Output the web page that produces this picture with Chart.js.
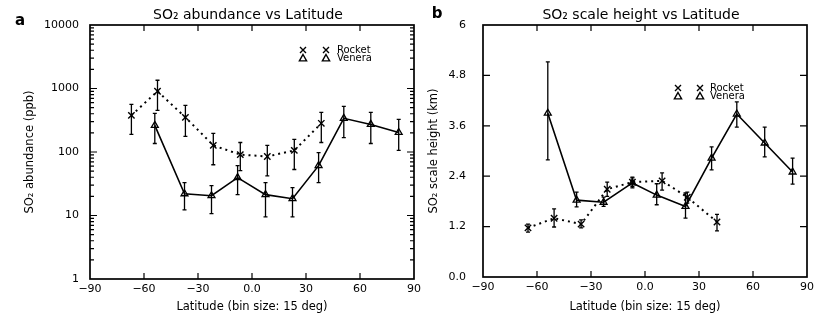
<!DOCTYPE html>
<html>
<head>
<meta charset="utf-8">
<script src="https://cdn.jsdelivr.net/npm/chart.js@4.4.1/dist/chart.umd.min.js"></script>
<style>
  html, body { margin: 0; padding: 0; background: #fff; }
  #wrap { position: relative; width: 818px; height: 320px; }
  #wrap canvas { position: absolute; top: 0; }
</style>
</head>
<body>
<div id="wrap">
  <canvas id="abund" width="425" height="320" style="left:0"></canvas>
  <canvas id="height" width="393" height="320" style="left:425px"></canvas>
</div>
<script>
// panel a - SO2 abundance (ppb), log axis
const rocketLatA = [-67, -52.5, -37, -21.5, -6.5, 8.5, 23.5, 38.5];
const rocketAbund = [378, 905, 351, 127, 91, 85, 106, 283];
const rocketAbundLo = [189, 453, 176, 63, 51, 42, 53, 141];
const rocketAbundHi = [564, 1349, 543, 196, 141, 127, 158, 422];

const veneraLatA = [-54, -37.5, -22.5, -8, 7.5, 22.5, 37, 51, 66, 81.5];
const veneraAbund = [262, 22, 20.5, 39.5, 21.3, 18.4, 61, 339, 272, 203];
const veneraAbundLo = [136, 12.3, 10.7, 21.3, 9.5, 9.5, 33, 169, 136, 106];
const veneraAbundHi = [406, 33, 29.5, 61, 33, 27.5, 98, 524, 422, 327];

// panel b - SO2 scale height (km)
const rocketLatB = [-65, -50.5, -35.5, -21, -7, 9.5, 23.5, 40];
const rocketHeight = [1.17, 1.40, 1.26, 2.09, 2.26, 2.29, 1.90, 1.31];
const rocketHeightLo = [1.07, 1.19, 1.17, 1.92, 2.15, 2.07, 1.76, 1.10];
const rocketHeightHi = [1.26, 1.62, 1.36, 2.26, 2.38, 2.48, 2.02, 1.49];

const veneraLatB = [-54, -38, -23, -7, 6.5, 22.5, 37, 51, 66.5, 82];
const veneraHeight = [3.90, 1.83, 1.78, 2.24, 1.95, 1.68, 2.83, 3.88, 3.19, 2.50];
const veneraHeightLo = [2.79, 1.67, 1.68, 2.12, 1.72, 1.40, 2.55, 3.57, 2.86, 2.21];
const veneraHeightHi = [5.12, 2.02, 1.90, 2.36, 2.22, 2.00, 3.10, 4.17, 3.57, 2.83];

const latTicks = [-90, -60, -30, 0, 30, 60, 90];
const abundTicks = [1, 10, 100, 1000, 10000];
const heightTicks = [0, 1.2, 2.4, 3.6, 4.8, 6];
const heightLabels = ["0.0", "1.2", "2.4", "3.6", "4.8", "6"];
const seriesNames = ["Rocket", "Venera"];

Chart.defaults.font.family = "'DejaVu Sans', sans-serif";
Chart.defaults.color = "#000";

function marker(ctx, style, x, y, r) {
  ctx.beginPath();
  if (style === "crossRot") {
    ctx.moveTo(x - r * 0.75, y - r * 0.75); ctx.lineTo(x + r * 0.75, y + r * 0.75);
    ctx.moveTo(x + r * 0.75, y - r * 0.75); ctx.lineTo(x - r * 0.75, y + r * 0.75);
  } else {
    ctx.moveTo(x, y - r);
    ctx.lineTo(x + r * 0.9, y + r * 0.6);
    ctx.lineTo(x - r * 0.9, y + r * 0.6);
    ctx.closePath();
  }
  ctx.stroke();
}

// error bars, box frame with inward ticks, titles and the little legend
const paperPlugin = {
  id: "paper",
  beforeDatasetsDraw(chart) {
    const ctx = chart.ctx;
    const y = chart.scales.y;
    ctx.save();
    ctx.strokeStyle = "#000";
    ctx.lineWidth = 1.3;
    chart.data.datasets.forEach((ds, i) => {
      chart.getDatasetMeta(i).data.forEach((pt, j) => {
        const top = y.getPixelForValue(ds.errHi[j]);
        const bot = y.getPixelForValue(ds.errLo[j]);
        ctx.beginPath();
        ctx.moveTo(pt.x, top); ctx.lineTo(pt.x, bot);
        ctx.moveTo(pt.x - 2, top); ctx.lineTo(pt.x + 2, top);
        ctx.moveTo(pt.x - 2, bot); ctx.lineTo(pt.x + 2, bot);
        ctx.stroke();
      });
    });
    ctx.restore();
  },
  afterDraw(chart, args, opts) {
    const { ctx, chartArea: a, scales } = chart;
    ctx.save();
    ctx.strokeStyle = "#000";
    ctx.lineWidth = 1.7;
    ctx.strokeRect(a.left, a.top, a.right - a.left, a.bottom - a.top);

    ctx.lineWidth = 1.2;
    ctx.beginPath();
    scales.x.ticks.forEach((t) => {
      if (t.value <= scales.x.min || t.value >= scales.x.max) return;
      const px = scales.x.getPixelForValue(t.value);
      ctx.moveTo(px, a.bottom); ctx.lineTo(px, a.bottom - 6);
      ctx.moveTo(px, a.top); ctx.lineTo(px, a.top + 6);
    });
    scales.y.ticks.forEach((t) => {
      if (t.value <= scales.y.min || t.value >= scales.y.max) return;
      const py = scales.y.getPixelForValue(t.value);
      const len = t.major ? 7 : 4;
      ctx.moveTo(a.left, py); ctx.lineTo(a.left + len, py);
      ctx.moveTo(a.right, py); ctx.lineTo(a.right - len, py);
    });
    ctx.stroke();

    // title and panel letter
    ctx.fillStyle = "#000";
    ctx.textAlign = "center";
    ctx.textBaseline = "middle";
    ctx.font = "14px 'DejaVu Sans'";
    ctx.fillText(opts.title, opts.titleX, 15);
    ctx.font = "bold 15px 'DejaVu Sans'";
    ctx.fillText(opts.letter, opts.letterX, opts.letterY);

    // legend: two symbols then the name
    const lg = opts.legend;
    ctx.font = "10px 'DejaVu Sans'";
    ctx.textAlign = "left";
    chart.data.datasets.forEach((ds, i) => {
      const ly = lg.y + i * lg.dy;
      ctx.lineWidth = 1.4;
      marker(ctx, ds.pointStyle, lg.x1, ly, 4);
      marker(ctx, ds.pointStyle, lg.x2, ly, 4);
      ctx.fillText(ds.label, lg.xt, ly);
    });
    ctx.restore();
  },
};

function makeDatasets(latR, valR, loR, hiR, latV, valV, loV, hiV) {
  return [
    {
      label: seriesNames[0],
      data: latR.map((x, i) => ({ x, y: valR[i] })),
      errLo: loR,
      errHi: hiR,
      borderColor: "#000",
      borderWidth: 2,
      borderDash: [2, 4],
      pointStyle: "crossRot",
      pointRadius: 4.5,
      pointBorderWidth: 1.4,
      pointBorderColor: "#000",
      fill: false,
    },
    {
      label: seriesNames[1],
      data: latV.map((x, i) => ({ x, y: valV[i] })),
      errLo: loV,
      errHi: hiV,
      borderColor: "#000",
      borderWidth: 1.6,
      pointStyle: "triangle",
      pointRadius: 4,
      pointBorderWidth: 1.3,
      pointBorderColor: "#000",
      pointBackgroundColor: "rgba(255,255,255,0)",
      fill: false,
    },
  ];
}

function xAxis(height) {
  return {
    type: "linear",
    min: latTicks[0],
    max: latTicks[latTicks.length - 1],
    afterBuildTicks: (s) => { s.ticks = latTicks.map((v) => ({ value: v })); },
    ticks: {
      autoSkip: false,
      maxRotation: 0,
      padding: 4,
      font: { size: 11 },
      callback: (v) => (v === 0 ? "0.0" : String(v).replace("-", "\u2212")),
    },
    grid: { display: false, drawTicks: false },
    border: { display: false },
    title: {
      display: true,
      text: "Latitude (bin size: 15 deg)",
      font: { size: 11.5 },
      padding: { top: 0, bottom: 6 },
    },
    afterFit: (s) => { s.height = height; },
  };
}

// decades labelled, 2..9 as small unlabelled ticks
function logTicks(s) {
  const out = [];
  abundTicks.forEach((d, k) => {
    out.push({ value: d, major: true });
    if (k < abundTicks.length - 1) {
      for (let m = 2; m <= 9; m++) out.push({ value: d * m, major: false });
    }
  });
  s.ticks = out;
}

function getAbundanceChart() {
  return {
    type: "line",
    data: {
      datasets: makeDatasets(rocketLatA, rocketAbund, rocketAbundLo, rocketAbundHi,
        veneraLatA, veneraAbund, veneraAbundLo, veneraAbundHi),
    },
    options: {
      responsive: false,
      animation: false,
      devicePixelRatio: 1,
      layout: { padding: { left: 0, right: 9, top: 25, bottom: 0 } },
      scales: {
        x: xAxis(41),
        y: {
          type: "logarithmic",
          min: abundTicks[0],
          max: abundTicks[abundTicks.length - 1],
          afterBuildTicks: logTicks,
          ticks: {
            autoSkip: false,
            padding: 11,
            font: { size: 11 },
            callback: (v) => (abundTicks.includes(v) ? String(v) : ""),
          },
          grid: { display: false, drawTicks: false },
          border: { display: false },
          title: {
            display: true,
            text: "SO\u2082 abundance (ppb)",
            font: { size: 11.5 },
            padding: { top: 23, bottom: 0 },
          },
          afterFit: (s) => { s.width = 90; },
        },
      },
      plugins: {
        legend: { display: false },
        tooltip: { enabled: false },
        paper: {
          title: "SO\u2082 abundance vs Latitude",
          titleX: 248,
          letter: "a",
          letterX: 20,
          letterY: 21,
          legend: { x1: 303, x2: 326, xt: 337, y: 50, dy: 8.5 },
        },
      },
    },
    plugins: [paperPlugin],
  };
}

function getScaleHeightChart() {
  return {
    type: "line",
    data: {
      datasets: makeDatasets(rocketLatB, rocketHeight, rocketHeightLo, rocketHeightHi,
        veneraLatB, veneraHeight, veneraHeightLo, veneraHeightHi),
    },
    options: {
      responsive: false,
      animation: false,
      devicePixelRatio: 1,
      layout: { padding: { left: 0, right: 11, top: 25, bottom: 0 } },
      scales: {
        x: xAxis(43),
        y: {
          type: "linear",
          min: heightTicks[0],
          max: heightTicks[heightTicks.length - 1],
          afterBuildTicks: (s) => { s.ticks = heightTicks.map((v) => ({ value: v, major: true })); },
          ticks: {
            autoSkip: false,
            padding: 17,
            font: { size: 11 },
            callback: (v) => heightLabels[heightTicks.indexOf(v)],
          },
          grid: { display: false, drawTicks: false },
          border: { display: false },
          title: {
            display: true,
            text: "SO\u2082 scale height (km)",
            font: { size: 11.5 },
            padding: { top: 2, bottom: 0 },
          },
          afterFit: (s) => { s.width = 58; },
        },
      },
      plugins: {
        legend: { display: false },
        tooltip: { enabled: false },
        paper: {
          title: "SO\u2082 scale height vs Latitude",
          titleX: 216,
          letter: "b",
          letterX: 12,
          letterY: 14,
          legend: { x1: 253, x2: 275, xt: 285, y: 88, dy: 8.5 },
        },
      },
    },
    plugins: [paperPlugin],
  };
}

new Chart(document.getElementById("abund").getContext("2d"), getAbundanceChart());
new Chart(document.getElementById("height").getContext("2d"), getScaleHeightChart());
</script>
</body>
</html>
